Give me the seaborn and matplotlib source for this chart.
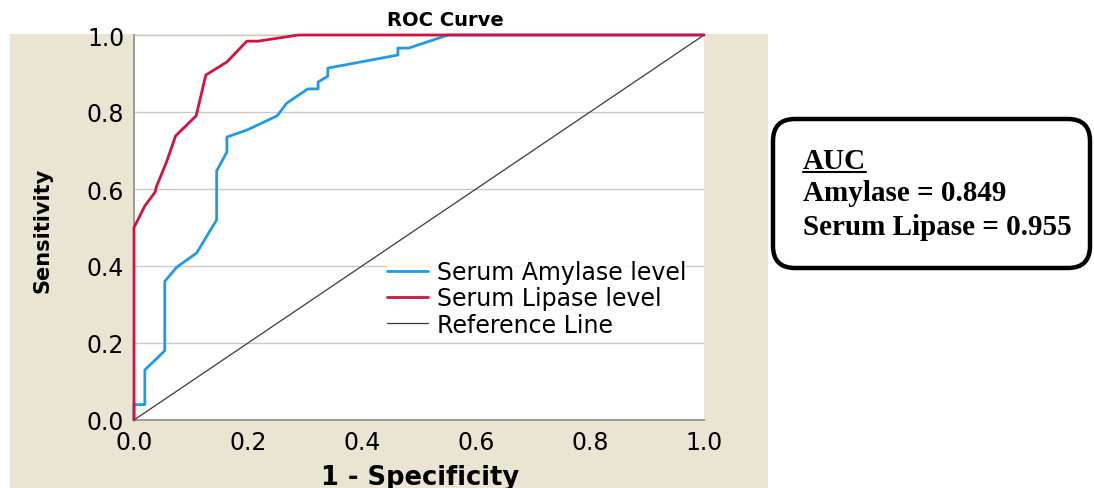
import matplotlib
matplotlib.use('Agg')
import matplotlib.pyplot as plt
import seaborn as sns
import numpy as np
from matplotlib.patches import Rectangle, FancyBboxPatch
from matplotlib.lines import Line2D
from matplotlib.transforms import IdentityTransform

# ROC points (1 - specificity, sensitivity)
amylase_fpr = [0.0, 0.0, 0.019, 0.019, 0.054, 0.054, 0.075, 0.11, 0.145, 0.145,
               0.163, 0.163, 0.198, 0.251, 0.268, 0.305, 0.323, 0.323, 0.34, 0.34,
               0.463, 0.463, 0.482, 0.551, 1.0]
amylase_tpr = [0.0, 0.04, 0.04, 0.13, 0.18, 0.36, 0.397, 0.434, 0.52, 0.647,
               0.696, 0.735, 0.753, 0.79, 0.823, 0.86, 0.86, 0.878, 0.893, 0.914,
               0.948, 0.966, 0.966, 1.0, 1.0]

lipase_fpr = [0.0, 0.0, 0.019, 0.037, 0.039, 0.057, 0.073, 0.109, 0.126, 0.163,
              0.198, 0.218, 0.288, 1.0]
lipase_tpr = [0.0, 0.50, 0.556, 0.592, 0.605, 0.67, 0.738, 0.79, 0.896, 0.93,
              0.984, 0.984, 1.0, 1.0]

ref_x = [0.0, 1.0]
ref_y = [0.0, 1.0]

ticks = [0.0, 0.2, 0.4, 0.6, 0.8, 1.0]
tick_labels = ['0.0', '0.2', '0.4', '0.6', '0.8', '1.0']

auc_lines = ['Amylase = 0.849', 'Serum Lipase = 0.955']

beige = '#EAE4D2'
blue = '#1E9AE6'
red = '#D4123E'

sns.set_style('white')
plt.rcParams['font.family'] = ['DejaVu Sans']
plt.rcParams['text.color'] = 'black'
plt.rcParams['xtick.color'] = 'black'
plt.rcParams['ytick.color'] = 'black'

W, H = 1094, 489
fig = plt.figure(figsize=(W / 100, H / 100), dpi=100)
fig.patch.set_facecolor('white')

# beige chart panel behind the axes
fig.patches.append(Rectangle((10 / W, 0), (768 - 10) / W, 1 - 35 / H,
                             transform=fig.transFigure, facecolor=beige,
                             edgecolor='none', zorder=-5))

ax = fig.add_axes([134 / W, 1 - 421 / H, 570 / W, 385 / H])
ax.set_facecolor('white')
ax.set_zorder(1)

for y in ticks[1:]:
    ax.axhline(y, color='#C9C9C9', lw=1.0, zorder=0)

sns.lineplot(x=amylase_fpr, y=amylase_tpr, sort=False, estimator=None,
             color=blue, lw=2.0, label='Serum Amylase level', ax=ax,
             zorder=4, clip_on=False)
sns.lineplot(x=lipase_fpr, y=lipase_tpr, sort=False, estimator=None,
             color=red, lw=2.0, label='Serum Lipase level', ax=ax,
             zorder=5, clip_on=False)
sns.lineplot(x=ref_x, y=ref_y, sort=False, estimator=None,
             color='#3A3A3A', lw=0.9, label='Reference Line', ax=ax, zorder=3)

ax.set_xlim(0, 1)
ax.set_ylim(0, 1)
ax.set_xticks(ticks)
ax.set_xticklabels(tick_labels)
ax.set_yticks(ticks)
ax.set_yticklabels(tick_labels)
ax.tick_params(length=0, labelsize=17, pad=7)
ax.set_xlabel('')
ax.set_ylabel('')

for s in ['top', 'right']:
    ax.spines[s].set_visible(False)
for s in ['left', 'bottom']:
    ax.spines[s].set_color('#9A9A9A')
    ax.spines[s].set_linewidth(1.4)

leg = ax.legend(loc='upper left', bbox_to_anchor=((387 - 134) / 570, (421 - 261) / 385),
                frameon=True, fontsize=17, handlelength=1.75, handletextpad=0.35,
                borderpad=0.0, borderaxespad=0.0, labelspacing=0.1)
leg.get_frame().set_facecolor('white')
leg.get_frame().set_edgecolor('none')
leg.get_frame().set_boxstyle('square', pad=0)
leg.set_zorder(6)

fig.text(445 / W, 1 - 20 / H, 'ROC Curve', ha='center', va='center',
         fontsize=14, fontweight='bold')
fig.text(42 / W, 1 - 230 / H, 'Sensitivity', ha='center', va='center',
         rotation=90, fontsize=15, fontweight='bold',
         family=['Liberation Sans Narrow', 'DejaVu Sans'])
fig.text(420 / W, 1 - 478 / H, '1 - Specificity', ha='center', va='center',
         fontsize=18.5, fontweight='bold')

# AUC box, drawn in pixel coordinates
box = FancyBboxPatch((773, H - 269), 1090 - 773, 269 - 120,
                     boxstyle='round,pad=0,rounding_size=22',
                     transform=IdentityTransform(), facecolor='white',
                     edgecolor='black', lw=3.2, zorder=3)
fig.patches.append(box)

serif = ['Liberation Serif', 'DejaVu Serif']
auc_t = fig.text(803 / W, 1 - 169 / H, 'AUC', ha='left', va='baseline',
                 fontsize=21, fontweight='bold', family=serif, zorder=4)
fig.text(803 / W, 1 - 201 / H, auc_lines[0], ha='left', va='baseline',
         fontsize=21, fontweight='bold', family=serif, zorder=4)
fig.text(803 / W, 1 - 235 / H, auc_lines[1], ha='left', va='baseline',
         fontsize=21, fontweight='bold', family=serif, zorder=4)

# underline for "AUC"
fig.canvas.draw()
bb = auc_t.get_window_extent().transformed(fig.transFigure.inverted())
fig.lines.append(Line2D([bb.x0, bb.x1], [1 - 173 / H, 1 - 173 / H],
                        transform=fig.transFigure, color='black', lw=1.5, zorder=4))

fig.savefig('out.png', dpi=100)
